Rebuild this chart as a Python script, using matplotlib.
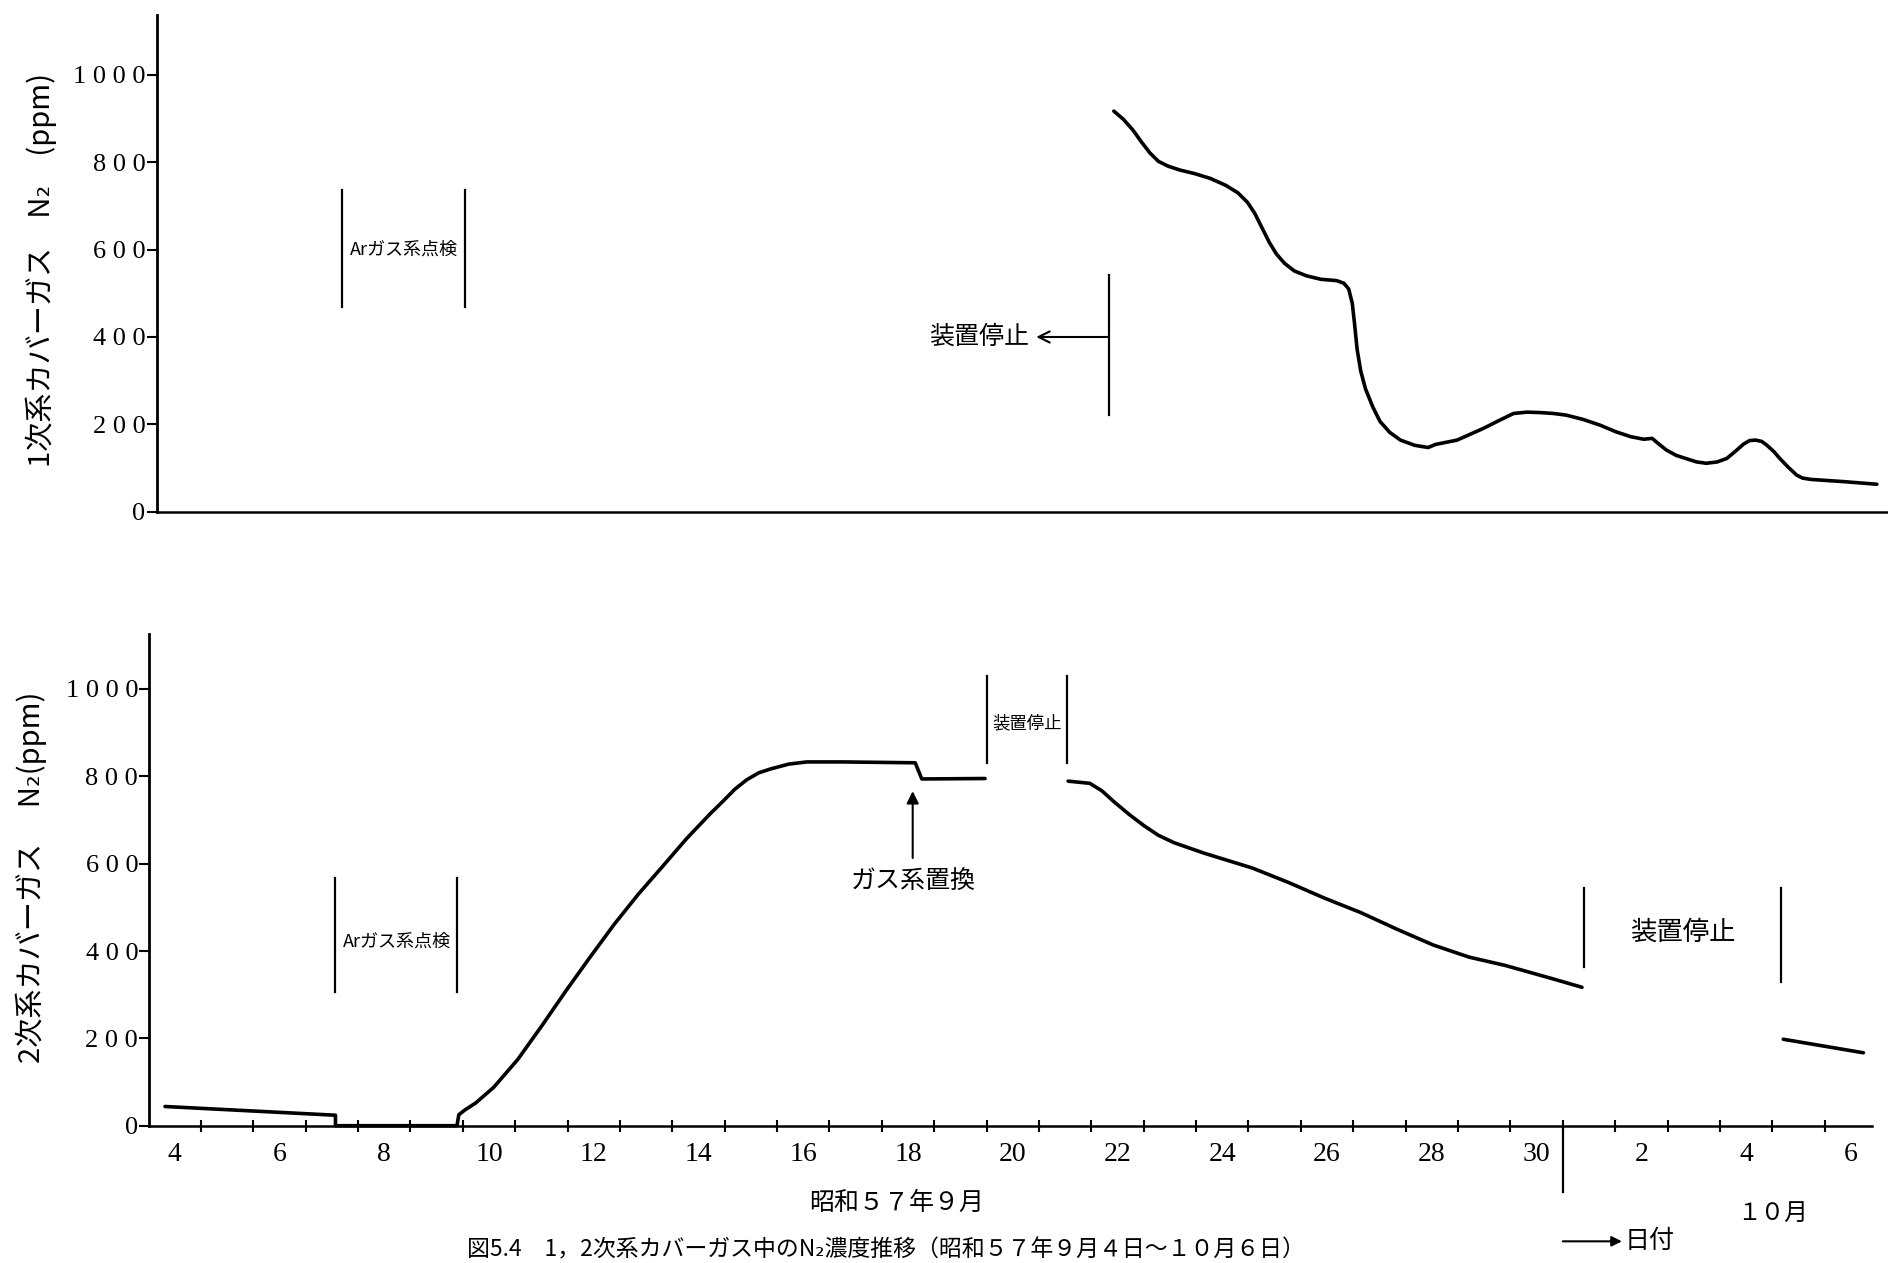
import numpy as np
import matplotlib.pyplot as plt

plt.rcParams['font.family'] = ['Noto Sans CJK JP', 'DejaVu Sans']
NUM = 'Liberation Serif'

# 1次系カバーガス N2 (ppm), day index: Sep d -> d, Oct d -> 30 + d
p1_day = [21.931, 22.115, 22.299, 22.460, 22.621, 22.782, 22.966, 23.195, 23.471, 23.770,
          24.069, 24.299, 24.483, 24.621, 24.759, 24.897, 25.034, 25.195, 25.379, 25.609,
          25.885, 26.184, 26.322, 26.414, 26.483, 26.529, 26.575, 26.644, 26.736, 26.874,
          27.011, 27.195, 27.402, 27.678, 27.931, 28.069, 28.483, 28.989, 29.287, 29.563,
          29.816, 30.069, 30.322, 30.575, 30.897, 31.218, 31.517, 31.793, 32.046, 32.207,
          32.345, 32.483, 32.667, 32.874, 33.057, 33.241, 33.448, 33.632, 33.793, 33.954,
          34.069, 34.184, 34.299, 34.391, 34.529, 34.644, 34.805, 34.966, 35.080, 35.241,
          35.862, 36.497]
p1_ppm = [917, 898, 873, 846, 821, 802, 791, 782, 774, 763,
          747, 730, 708, 683, 650, 617, 590, 568, 551, 540,
          532, 529, 523, 510, 477, 427, 372, 322, 281, 240,
          207, 182, 164, 152, 147, 154, 164, 191, 209, 225,
          228, 227, 225, 221, 211, 198, 183, 172, 166, 168,
          154, 141, 129, 121, 114, 111, 114, 122, 138, 155,
          163, 164, 161, 153, 138, 122, 102, 84, 77, 74,
          69, 63]

# 2次系カバーガス N2 (ppm), three pieces
s1_day = [3.816, 7.07, 7.07, 9.39, 9.39, 9.425, 9.540, 9.747, 10.092, 10.552,
          11.011, 11.471, 11.931, 12.391, 12.851, 13.310, 13.770, 14.230, 14.460, 14.690,
          14.920, 15.149, 15.379, 15.724, 16.069, 16.759, 18.138, 18.264, 19.471]
s1_ppm = [44, 24, 0, 0, 0, 25, 36, 52, 88, 152,
          229, 309, 386, 461, 530, 593, 657, 715, 742, 770,
          792, 808, 817, 828, 833, 833, 831, 794, 795]
s2_day = [21.057, 21.471, 21.701, 21.931, 22.230, 22.506, 22.780, 23.080, 23.655, 24.115,
          24.575, 25.264, 25.954, 26.644, 27.333, 28.023, 28.713, 29.402, 30.262, 30.867]
s2_ppm = [789, 784, 767, 742, 712, 687, 665, 648, 624, 607,
          590, 557, 521, 488, 450, 414, 386, 367, 338, 317]
s3_day = [34.71, 36.24]
s3_ppm = [198, 167]

yticks = [0, 200, 400, 600, 800, 1000]
ytick_labels = ['0', '2 0 0', '4 0 0', '6 0 0', '8 0 0', '1 0 0 0']
xlabel_days = [4, 6, 8, 10, 12, 14, 16, 18, 20, 22, 24, 26, 28, 30, 32, 34, 36]
xlabel_text = ['4', '6', '8', '10', '12', '14', '16', '18', '20', '22', '24',
               '26', '28', '30', '2', '4', '6']

fig = plt.figure(figsize=(18.88, 12.63), dpi=100)

ax1 = fig.add_axes([0.0829, 0.5948, 0.9171, 0.3937])
ax2 = fig.add_axes([0.0791, 0.1087, 0.9126, 0.3890])
ax1.set_xlim(3.655, 36.71)
ax1.set_ylim(0, 1138)
ax2.set_xlim(3.517, 36.41)
ax2.set_ylim(0, 1125)

for ax in (ax1, ax2):
    for s in ('top', 'right'):
        ax.spines[s].set_visible(False)
    ax.spines['left'].set_linewidth(2)
    ax.spines['bottom'].set_linewidth(1.8)
    ax.set_yticks(yticks)
    ax.set_yticklabels(ytick_labels, fontfamily=NUM, fontsize=19)
    ax.tick_params(axis='y', direction='out', length=7, width=1.5, pad=1)

ax1.tick_params(axis='x', bottom=False, labelbottom=False)

ax2.set_xticks(xlabel_days)
ax2.set_xticklabels(xlabel_text, fontfamily=NUM, fontsize=20)
ax2.set_xticks(np.arange(4.5, 36, 1.0), minor=True)
ax2.tick_params(axis='x', which='major', length=0, pad=12)
ax2.tick_params(axis='x', which='minor', direction='inout', length=9, width=1.5)

lw = 2.6
style = dict(color='black', lw=lw, solid_capstyle='round', solid_joinstyle='round')
ax1.plot(p1_day, p1_ppm, **style)
ax2.plot(s1_day, s1_ppm, clip_on=False, **style)
ax2.plot(s2_day, s2_ppm, **style)
ax2.plot(s3_day, s3_ppm, **style)

blw = 1.6
# top panel annotations
ax1.plot([7.2, 7.2], [468, 736], color='black', lw=blw)
ax1.plot([9.54, 9.54], [468, 736], color='black', lw=blw)
ax1.text(8.37, 601, 'Arガス系点検', ha='center', va='center', fontsize=13)
ax1.plot([21.83, 21.83], [221, 542], color='black', lw=blw)
ax1.annotate('', xy=(20.45, 400), xytext=(21.83, 400),
             arrowprops=dict(arrowstyle='->', lw=1.5, color='black',
                             shrinkA=0, shrinkB=0, mutation_scale=20))
ax1.text(20.32, 400, '装置停止', ha='right', va='center', fontsize=18)

# bottom panel annotations
ax2.plot([7.06, 7.06], [306, 568], color='black', lw=blw)
ax2.plot([9.39, 9.39], [306, 568], color='black', lw=blw)
ax2.text(8.24, 422, 'Arガス系点検', ha='center', va='center', fontsize=13)
ax2.plot([19.5, 19.5], [830, 1029], color='black', lw=blw)
ax2.plot([21.04, 21.04], [830, 1029], color='black', lw=blw)
ax2.text(20.27, 922, '装置停止', ha='center', va='center', fontsize=12.5)
ax2.plot([30.9, 30.9], [364, 544], color='black', lw=blw)
ax2.plot([34.67, 34.67], [330, 544], color='black', lw=blw)
ax2.text(32.8, 444, '装置停止', ha='center', va='center', fontsize=19)
ax2.annotate('', xy=(18.09, 766), xytext=(18.09, 613),
             arrowprops=dict(arrowstyle='-|>', lw=1.5, color='black',
                             shrinkA=0, shrinkB=0, mutation_scale=18))
ax2.text(18.1, 560, 'ガス系置換', ha='center', va='center', fontsize=18)
ax2.plot([30.5, 30.5], [0, -152], color='black', lw=blw, clip_on=False)

# axis titles
fig.text(0.0221, 0.7865, '1次系カバーガス　N₂　(ppm)', rotation=90,
         ha='center', va='center', fontsize=21)
fig.text(0.0168, 0.3051, '2次系カバーガス　 N₂(ppm)', rotation=90,
         ha='center', va='center', fontsize=21)
fig.text(745 / 1568, 1 - 999 / 1049, '昭和５７年９月', ha='center', va='center', fontsize=18)
fig.text(1472 / 1568, 1 - 1008 / 1049, '１０月', ha='center', va='center', fontsize=17)
fig.text(1349 / 1568, 1 - 1031 / 1049, '日付', ha='left', va='center', fontsize=18)
ax2.annotate('', xy=(1347 / 1568, 1 - 1031 / 1049), xytext=(1298 / 1568, 1 - 1031 / 1049),
             xycoords='figure fraction', textcoords='figure fraction',
             arrowprops=dict(arrowstyle='-|>', lw=1.5, color='black',
                             shrinkA=0, shrinkB=0, mutation_scale=15))
fig.text(388 / 1568, 1 - 1029 / 1049,
         '図5.4　1，2次系カバーガス中のN₂濃度推移（昭和５７年９月４日～１０月６日）',
         ha='left', va='top', fontsize=16.5)

fig.savefig('out.png', dpi=100)
